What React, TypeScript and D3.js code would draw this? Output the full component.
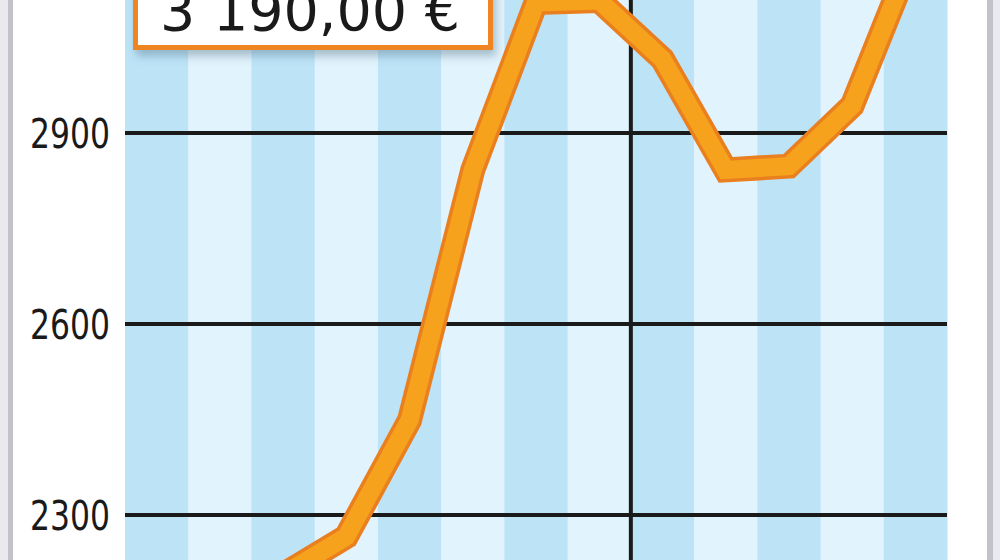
import * as d3 from 'd3'

// months shown as alternating stripes (last one is the current price)
const months = [
  '2021-05', '2021-06', '2021-07', '2021-08', '2021-09', '2021-10', '2021-11',
  '2021-12', '2022-01', '2022-02', '2022-03', '2022-04', '2022-05',
]
const prices = [2150, 2180, 2206, 2266, 2449, 2842, 3105, 3108, 3016, 2842, 2848, 2943, 3190]
const yTicks = [2300, 2600, 2900]
const yearStart = '2022-01'
const currentLabel = '3 190,00 €'

const W = 1000
const H = 560
const plotLeft = 125
const plotRight = 947

const narrow = "'DejaVu Sans Condensed', 'DejaVu Sans', sans-serif"

export default function App() {
  const x = d3.scaleBand<string>().domain(months).range([plotLeft, plotRight])
  const y = d3.scaleLinear().domain([2300, 2900]).range([515, 133])

  const pts = months.map((m, i) => ({ m, v: prices[i] }))
  const line = d3.line<{ m: string; v: number }>()
    .x(d => x(d.m)! + x.bandwidth() / 2)
    .y(d => y(d.v))
  const path = line(pts) ?? ''

  const yearX = x(yearStart)!

  return (
    <svg width={W} height={H} style={{ position: 'fixed', left: 0, top: 0, background: '#fff' }}>
      <defs>
        <filter id="shadow" x="-10%" y="-30%" width="130%" height="180%">
          <feDropShadow dx="3" dy="6" stdDeviation="4" floodColor="#5a7a90" floodOpacity="0.45" />
        </filter>
        <clipPath id="plotClip">
          <rect x={plotLeft} y={0} width={plotRight - plotLeft} height={H} />
        </clipPath>
      </defs>

      {/* page edges */}
      <rect x={0} y={0} width={8} height={H} fill="#e9e9ef" />
      <rect x={8} y={0} width={5} height={H} fill="#c2c2ca" />
      <rect x={987} y={0} width={6} height={H} fill="#c2c2ca" />
      <rect x={993} y={0} width={7} height={H} fill="#e9e9ef" />

      {/* month stripes */}
      {months.map((m, i) => (
        <rect key={m} x={x(m)} y={0} width={x.bandwidth() + 0.5} height={H}
          fill={i % 2 === 0 ? '#bde3f7' : '#e1f3fc'} />
      ))}

      {/* gridlines */}
      {yTicks.map(t => (
        <line key={t} x1={plotLeft} x2={plotRight} y1={y(t)} y2={y(t)}
          stroke="#1a1a1a" strokeWidth={4} />
      ))}
      <line x1={yearX} x2={yearX} y1={0} y2={H} stroke="#1a1a1a" strokeWidth={4} />

      {/* y labels */}
      {yTicks.map(t => (
        <text key={t} x={30} y={y(t) + 15} textLength={80} lengthAdjust="spacingAndGlyphs"
          fontFamily={narrow} fontSize={41} fill="#1a1a1a">{t}</text>
      ))}

      {/* price line */}
      <g clipPath="url(#plotClip)">
        <path d={path} fill="none" stroke="#e97f1f" strokeWidth={25}
          strokeLinejoin="miter" strokeMiterlimit={3} />
        <path d={path} fill="none" stroke="#f6a21d" strokeWidth={18}
          strokeLinejoin="miter" strokeMiterlimit={3} />
      </g>

      {/* current value box */}
      <g filter="url(#shadow)">
        <rect x={135.5} y={-60} width={355} height={107.5} fill="#fff"
          stroke="#ee8422" strokeWidth={5} />
      </g>
      <text x={160} y={30} textLength={300} lengthAdjust="spacingAndGlyphs"
        fontFamily={narrow} fontSize={56} fill="#1a1a1a">{currentLabel}</text>
    </svg>
  )
}
